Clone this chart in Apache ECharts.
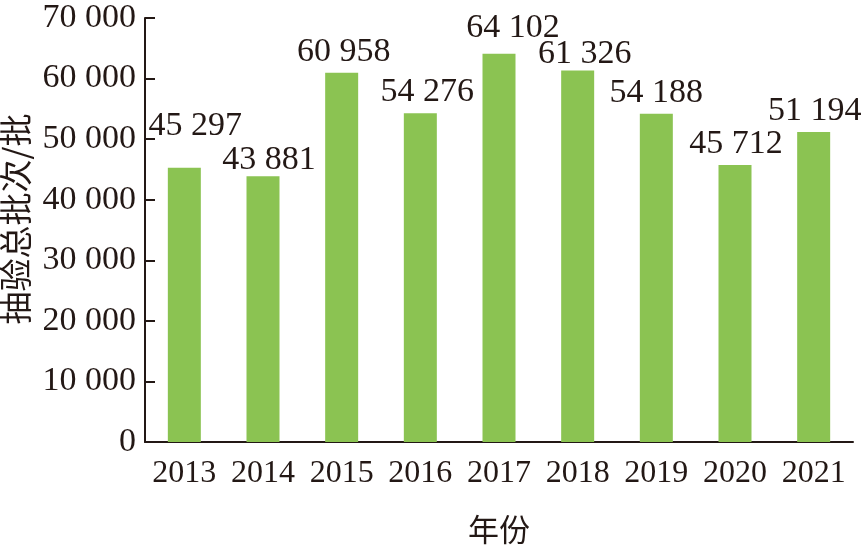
<!DOCTYPE html>
<html>
<head>
<meta charset="utf-8">
<script src="https://cdn.jsdelivr.net/npm/echarts@6/dist/echarts.min.js"></script>
<style>html,body{margin:0;padding:0;background:#fff}#c{width:866px;height:550px}</style>
</head>
<body>
<div id="c"></div>
<script>
const categories = ['2013','2014','2015','2016','2017','2018','2019','2020','2021'];
const values = [45297, 43881, 60958, 54276, 64102, 61326, 54188, 45712, 51194];
const yTicks = [0, 10000, 20000, 30000, 40000, 50000, 60000, 70000];
// label nudges (dx, dy) to mimic the hand-placed labels
const labelShift = [[11,-21],[6,5],[2,0],[7,0],[14,-5],[7,5],[0,0],[1,0],[1,0]];

const fmt = v => String(v).replace(/\B(?=(\d{3})+(?!\d))/g, ' ');
const ink = '#231815';
const serif = '"Liberation Serif","DejaVu Serif",serif';

const chart = echarts.init(document.getElementById('c'), null, {renderer:'canvas'});
chart.setOption({
  animation:false,
  grid:{left:145, right:13, top:18, bottom:108, containLabel:false, outerBoundsMode:'none'},
  xAxis:{
    type:'category', data:categories,
    name:'年份', nameLocation:'middle', nameGap:72,
    nameTextStyle:{fontFamily:'"Noto Sans CJK SC",sans-serif', fontSize:31, color:ink},
    axisLine:{lineStyle:{color:ink, width:2}},
    axisTick:{inside:true, length:11, lineStyle:{color:ink, width:2}},
    axisLabel:{interval:0, fontFamily:serif, fontSize:32, color:ink, margin:16}
  },
  yAxis:{
    type:'value', min:yTicks[0], max:yTicks[yTicks.length-1], interval:10000,
    name:'抽验总批次/批', nameLocation:'middle', nameGap:110, nameRotate:90,
    nameTextStyle:{fontFamily:'"Noto Sans CJK SC",sans-serif', fontSize:33, color:ink, padding:[0,0,0,22]},
    axisLine:{show:true, lineStyle:{color:ink, width:2}},
    axisTick:{show:true, inside:true, length:10, lineStyle:{color:ink, width:2}},
    splitLine:{show:false},
    axisLabel:{fontFamily:serif, fontSize:34, color:ink, margin:9, formatter:v=>fmt(v)}
  },
  series:[{
    type:'bar', barWidth:33,
    itemStyle:{color:'#8bc352'},
    data: values.map((v,i)=>({value:v, label:{offset:labelShift[i]}})),
    label:{show:true, position:'top', distance:4, fontFamily:serif, fontSize:34, color:ink, formatter:p=>fmt(p.value)}
  }]
});
</script>
</body>
</html>
